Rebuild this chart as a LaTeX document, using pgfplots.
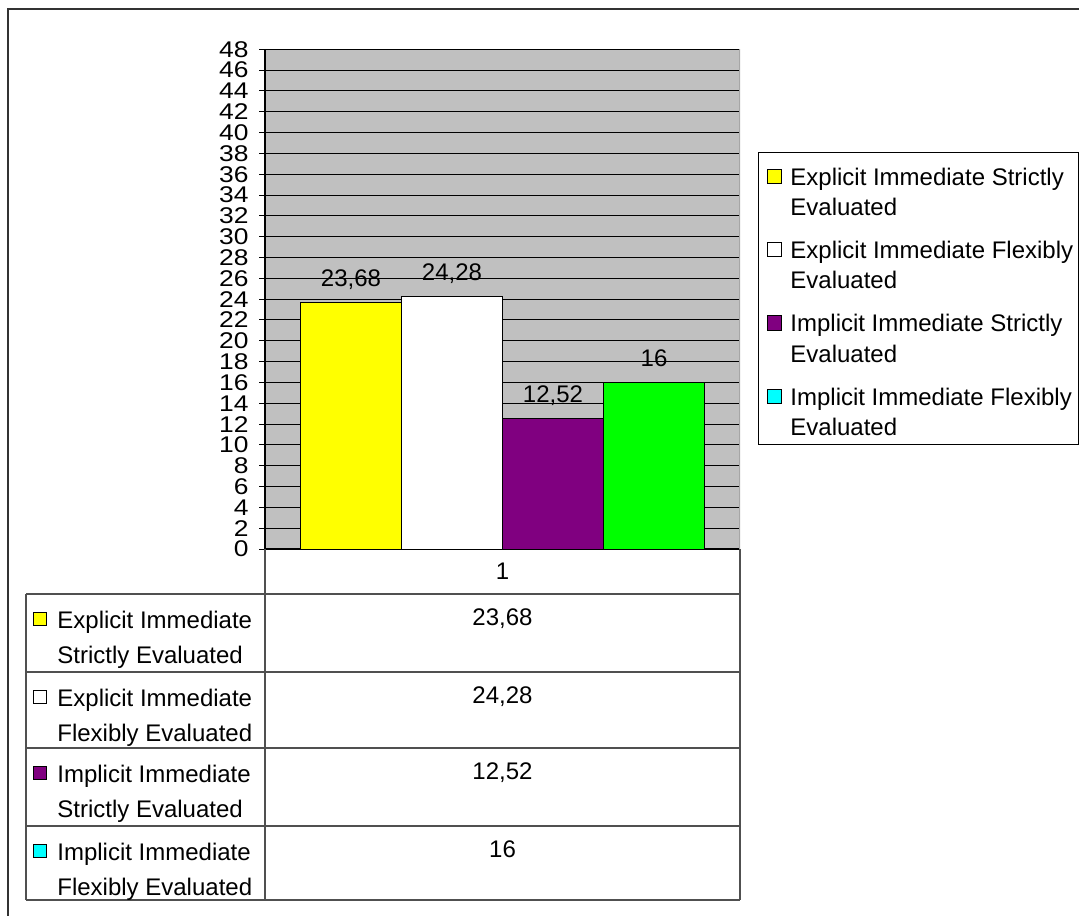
\documentclass[border=0pt]{standalone}
\usepackage{fontspec}
\setmainfont{Liberation Sans}
\usepackage{graphicx}
\usepackage{pgfplots}
\usepackage{pgfplotstable}
\pgfplotsset{compat=1.18}

\definecolor{plotbg}{HTML}{C0C0C0}
\definecolor{eis}{HTML}{FFFF00}
\definecolor{eif}{HTML}{FFFFFF}
\definecolor{iis}{HTML}{800080}
\definecolor{iif}{HTML}{00FF00}
\definecolor{iifkey}{HTML}{00FFFF}
\definecolor{rulecol}{HTML}{505050}

\newcommand\chartfont{\fontsize{12}{14}\selectfont}

% one category, four series
\pgfplotstableread{
cat EIS   EIF   IIS   IIF
1   23.68 24.28 12.52 16
}\scores

% value of one series, printed with a decimal comma
\newcommand\cellvalue[1]{%
  \pgfplotstablegetelem{0}{#1}\of\scores
  \pgfmathprintnumber[use comma,assume math mode=true]{\pgfplotsretval}}

\begin{document}
\begin{tikzpicture}
\begin{axis}[
  at={(132.5pt,-274.5pt)}, anchor=south west,
  scale only axis, width=237.5pt, height=249.85pt,
  xmin=0.5, xmax=1.5, ymin=0, ymax=48,
  ybar=0pt, bar width=50.5pt,
  axis x line*=bottom, axis y line*=left,
  axis line style={-, black, line width=0.6pt},
  xtick=\empty,
  ytick={0,2,...,48},
  ymajorgrids, grid style={black, line width=0.5pt},
  axis background/.style={fill=plotbg},
  tick align=outside, major tick length=3pt,
  tick style={black, line width=0.5pt},
  /pgf/number format/assume math mode=true,
  yticklabel={\scalebox{1}[0.86]{\pgfmathprintnumber{\tick}}},
  yticklabel style={font=\fontsize{13.2}{13.2}\selectfont, inner sep=0pt, xshift=-5pt},
  nodes near coords={\pgfmathprintnumber[use comma]{\pgfplotspointmeta}},
  every node near coord/.append style={font=\chartfont, anchor=base, yshift=8pt, black},
]
\addplot[fill=eis, draw=black, line width=0.5pt] table[x=cat, y=EIS] {\scores};
\addplot[fill=eif, draw=black, line width=0.5pt] table[x=cat, y=EIF] {\scores};
\addplot[fill=iis, draw=black, line width=0.5pt] table[x=cat, y=IIS] {\scores};
\addplot[fill=iif, draw=black, line width=0.5pt] table[x=cat, y=IIF] {\scores};
\draw[black!35, line width=0.6pt] (rel axis cs:1,0) -- (rel axis cs:1,1);
\end{axis}

\begin{scope}[x=0.5pt, y=-0.5pt]
  \path[use as bounding box] (0,0) rectangle (1079,916);
  % outer frame
  \draw[black!80, line width=1pt] (1079,8.5) -- (7.5,8.5) -- (7.5,916);

  % data table under the plot
  \begin{scope}[rulecol, line width=0.7pt]
    \draw (265,549) -- (265,900);
    \draw (740,549) -- (740,900);
    \draw (26,594) -- (26,900);
    \foreach \yy in {594,672,748,826,900} \draw (26,\yy) -- (740,\yy);
  \end{scope}
  \node[font=\chartfont, anchor=base, inner sep=0pt] at (502.5,579) {1};

  \foreach \key/\col/\top/\la/\lb in {
      EIS/eis/594/Explicit Immediate/Strictly Evaluated,
      EIF/eif/672/Explicit Immediate/Flexibly Evaluated,
      IIS/iis/748/Implicit Immediate/Strictly Evaluated,
      IIF/iifkey/826/Implicit Immediate/Flexibly Evaluated}{
    \fill[\col, draw=black, line width=0.4pt]
      (33.5,\top+18) rectangle (46.5,\top+31);
    \node[font=\chartfont, anchor=base west, inner sep=0pt] at (57,\top+34) {\la};
    \node[font=\chartfont, anchor=base west, inner sep=0pt] at (57,\top+69) {\lb};
    \node[font=\chartfont, anchor=base, inner sep=0pt] at (502.5,\top+31) {\cellvalue{\key}};
  }

  % legend
  \draw[black, line width=0.5pt, fill=white] (758,152) rectangle (1078,444);
  \foreach \col/\base/\la in {
      eis/185/Explicit Immediate Strictly,
      eif/258.3/Explicit Immediate Flexibly,
      iis/331.7/Implicit Immediate Strictly,
      iifkey/405/Implicit Immediate Flexibly}{
    \fill[\col, draw=black, line width=0.4pt]
      (767,\base-16) rectangle (781.5,\base-1.5);
    \node[font=\chartfont, anchor=base west, inner sep=0pt] at (790,\base) {\la};
    \node[font=\chartfont, anchor=base west, inner sep=0pt] at (790,\base+30.5) {Evaluated};
  }
\end{scope}
\end{tikzpicture}
\end{document}
